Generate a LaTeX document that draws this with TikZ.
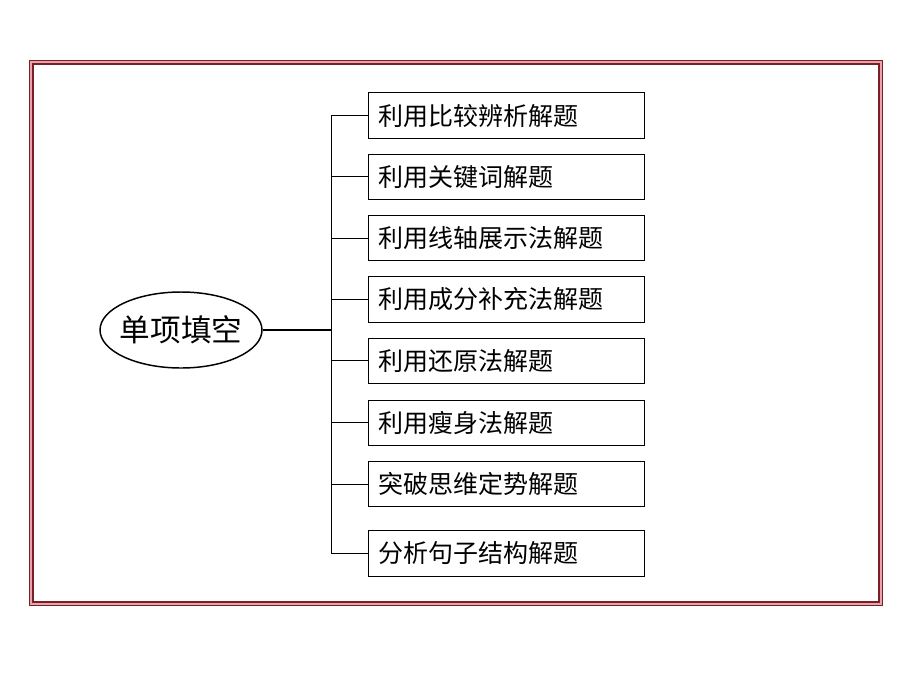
\documentclass[tikz,border=0pt]{standalone}
\usepackage{fontspec}
\setmainfont{Noto Sans CJK SC}
\usepackage{tikz}
\usetikzlibrary{positioning,shapes.geometric}
\definecolor{framered}{HTML}{7A1E28}
\definecolor{framepink}{HTML}{E8A2AA}
\tikzset{
every path/.style={line width=0.75pt}
, topicnode/.style={ellipse,draw,line width=1.1pt,minimum width=121.5pt,minimum height=57pt,inner xsep=-9pt,inner ysep=0pt,font=\fontsize{23pt}{27pt}\selectfont}
, methodnode/.style={draw,rectangle,minimum width=207pt,minimum height=34pt,text width=192pt,inner xsep=7pt,inner ysep=2pt,align=left,font=\fontsize{18.75pt}{22pt}\selectfont}
, branch/.style={line width=0.75pt}
, trunkline/.style={line width=2.2pt}}

\begin{document}
\begin{tikzpicture}[x=0.75pt,y=-0.75pt]
\useasboundingbox (0,0) rectangle (920,690);
% frame
\draw[framered,fill=framepink,line width=1.4pt] (29.5,60.5) rectangle (882.5,605.5);
\draw[framered,fill=white,line width=0.8pt] (33,64) rectangle (879,602);
% root and methods
\node[topicnode] at (181,330) (root) {单项填空};
\node[methodnode,anchor=west] at (368,115.5) (m1) {利用比较辨析解题};
\node[methodnode,below=11.25pt of m1] (m2) {利用关键词解题};
\node[methodnode,below=11.25pt of m2] (m3) {利用线轴展示法解题};
\node[methodnode,below=11.25pt of m3] (m4) {利用成分补充法解题};
\node[methodnode,below=11.25pt of m4] (m5) {利用还原法解题};
\node[methodnode,below=11.75pt of m5] (m6) {利用瘦身法解题};
\node[methodnode,below=11.25pt of m6] (m7) {突破思维定势解题};
\node[methodnode,below=17.25pt of m7] (m8) {分析句子结构解题};
\coordinate (spine) at (331,330);
\draw[branch] (m1.west) -- ++(-37,0) |- (m8.west);
\foreach \i in {2,...,7}
  \draw[branch] (m\i.west) -- (m\i.west -| spine);
\draw[trunkline] (root.east) -- (spine);
\end{tikzpicture}
\end{document}
